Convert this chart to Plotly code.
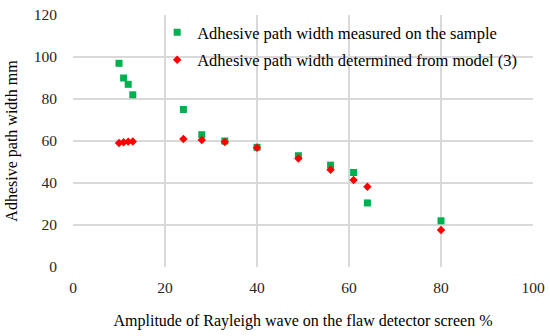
import plotly.graph_objects as go

amplitude = [10, 11, 12, 13, 24, 28, 33, 40, 49, 56, 61, 64, 80]
measured = [97, 90, 87, 82, 75, 63, 60, 57, 53, 48.5, 45, 30.5, 22]
model = [59, 59.4, 59.7, 59.8, 61, 60.5, 59.5, 56.8, 51.7, 46.3, 41.4, 38.2, 17.6]

x_ticks = [0, 20, 40, 60, 80, 100]
y_ticks = [0, 20, 40, 60, 80, 100, 120]

font_family = "Liberation Serif"

fig = go.Figure()
fig.add_trace(go.Scatter(
    x=amplitude, y=measured, mode="markers",
    name="Adhesive path width measured on the sample",
    legendgroup="a",
    marker=dict(symbol="square", size=7, color="#00B050"),
))
fig.add_trace(go.Scatter(
    x=amplitude, y=model, mode="markers",
    name="Adhesive path width determined from model (3)",
    legendgroup="b",
    marker=dict(symbol="diamond", size=6.5, color="#FF0000"),
))

# white legend box drawn between gridlines and traces
fig.add_shape(type="rect", xref="paper", yref="paper",
              x0=0.2065, x1=0.978, y0=0.762, y1=1.0,
              fillcolor="white", line=dict(width=0), layer="between")

fig.update_layout(
    width=550, height=336,
    margin=dict(l=73, r=17, t=15, b=69),
    paper_bgcolor="white", plot_bgcolor="white",
    font=dict(family=font_family, size=15, color="#000000"),
    showlegend=True,
    legend=dict(
        x=0.183, y=1.0, xanchor="left", yanchor="top",
        bgcolor="rgba(0,0,0,0)", borderwidth=0,
        font=dict(family=font_family, size=16.5, color="#000000"),
        tracegroupgap=3, itemwidth=30,
    ),
    xaxis=dict(
        range=[0, 100], tickvals=x_ticks, showgrid=True, gridcolor="#D9D9D9",
        gridwidth=1.5, zeroline=False, showline=False, automargin=False,
        tickfont=dict(family=font_family, size=15.5, color="#262626"),
        ticks="outside", ticklen=6, tickcolor="rgba(0,0,0,0)",
        title=dict(text="Amplitude of Rayleigh wave on the flaw detector screen %",
                   font=dict(family=font_family, size=16, color="#000000"), standoff=20),
    ),
    yaxis=dict(
        range=[0, 120], tickvals=y_ticks, showgrid=True, gridcolor="#D9D9D9",
        gridwidth=1.5, zeroline=False, showline=False, automargin=False,
        tickfont=dict(family=font_family, size=15.5, color="#262626"),
        ticks="outside", ticklen=12, tickcolor="rgba(0,0,0,0)",
        title=dict(text="Adhesive path width mm",
                   font=dict(family=font_family, size=16, color="#000000"), standoff=12),
    ),
)

fig.write_html("out.html", config={"displayModeBar": False},
               post_script="document.body.style.margin='0';")
